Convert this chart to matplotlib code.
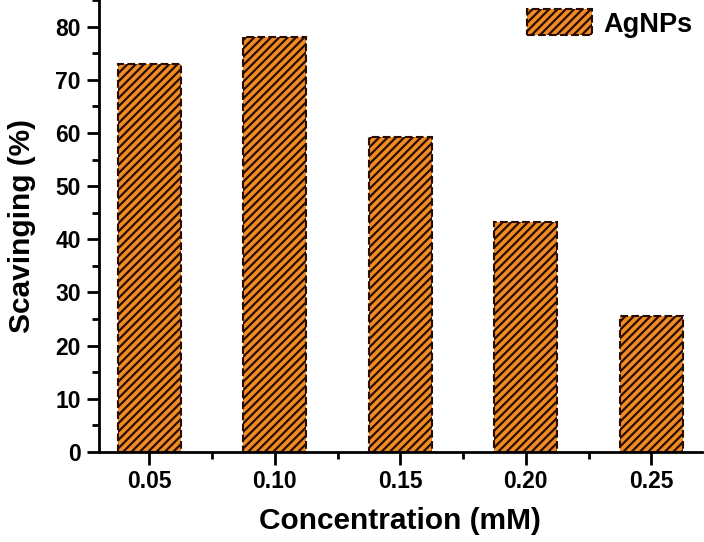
import numpy as np
import matplotlib
matplotlib.use('Agg')
import matplotlib.pyplot as plt
from matplotlib.ticker import MultipleLocator

concentration = [0.05, 0.10, 0.15, 0.20, 0.25]
tick_labels = ['0.05', '0.10', '0.15', '0.20', '0.25']
scavenging = [73.0, 78.1, 59.3, 43.2, 25.5]

plt.rcParams['font.family'] = ['Liberation Sans', 'DejaVu Sans']
plt.rcParams['font.weight'] = 'bold'
plt.rcParams['hatch.linewidth'] = 1.6

fig = plt.figure(figsize=(7.04, 5.42), dpi=100)
ax = fig.add_axes([0.1406, 0.166, 0.856, 0.834])

ax.bar(concentration, scavenging, width=0.025, color='#F08C24',
       edgecolor='#2a0d00', hatch='////', linestyle='--', linewidth=1.5,
       label='AgNPs')

ax.set_xlim(0.03, 0.27)
ax.set_ylim(0, 85)
ax.set_xticks(concentration)
ax.set_xticklabels(tick_labels)
ax.xaxis.set_minor_locator(MultipleLocator(0.025))
ax.yaxis.set_major_locator(MultipleLocator(10))
ax.yaxis.set_minor_locator(MultipleLocator(5))

for side in ['top', 'right']:
    ax.spines[side].set_visible(False)
for side in ['left', 'bottom']:
    ax.spines[side].set_linewidth(2)

ax.tick_params(which='major', direction='out', length=9, width=2,
               labelsize=16.5, pad=4)
ax.tick_params(which='minor', direction='out', length=5, width=2)
for lbl in ax.get_xticklabels() + ax.get_yticklabels():
    lbl.set_fontweight('bold')

ax.set_xlabel('Concentration (mM)', fontsize=21.5, fontweight='bold', labelpad=10)
ax.set_ylabel('Scavinging (%)', fontsize=21.5, fontweight='bold', labelpad=14)

ax.legend(loc='upper right', frameon=False, fontsize=19.5, handlelength=2.4,
          handleheight=1.1, handletextpad=0.4, borderaxespad=0.1,
          borderpad=0.25)

fig.savefig('out.png', dpi=100)
